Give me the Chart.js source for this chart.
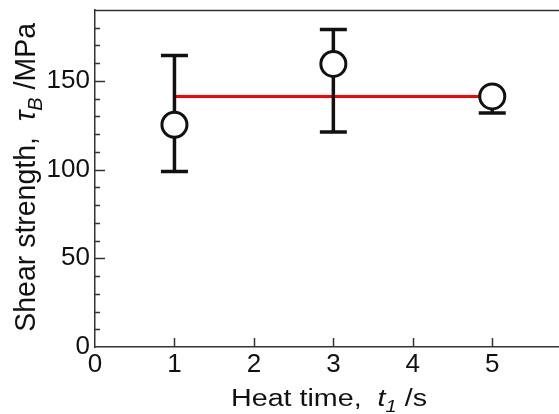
<!DOCTYPE html>
<html>
<head>
<meta charset="utf-8">
<script src="https://cdn.jsdelivr.net/npm/chart.js@4.4.1/dist/chart.umd.min.js"></script>
<style>
  html, body { margin: 0; padding: 0; background: #fff; overflow: hidden; }
  canvas { display: block; }
</style>
</head>
<body>
<canvas id="shearChart" width="559" height="414"></canvas>
<script>
"use strict";
// data
const heatTime = [1, 3, 5];
const shearMean = [125.3, 159.6, 141.3];
const shearUpper = [164.4, 179.0, 142.5];
const shearLower = [98.9, 121.2, 131.9];
const fitTime = [1, 5];
const fitShear = [141.3, 141.3];
const yLabelStep = 50;
const xLabels = ['0', '1', '2', '3', '4', '5'];

const FONT = "'Liberation Sans', Arial, sans-serif";
const INK = '#111';
const AXIS = '#333';

document.addEventListener('DOMContentLoaded', () => {
    const canvas = document.getElementById('shearChart');
    const ctx = canvas.getContext('2d');

    const points = heatTime.map((t, i) => ({ x: t, y: shearMean[i] }));
    const fitLine = fitTime.map((t, i) => ({ x: t, y: fitShear[i] }));

    // measure / draw a run of text pieces (italic, subscript)
    function richRun(c, parts, size, draw) {
        let x = 0;
        parts.forEach(p => {
            const s = p.sub ? size * 0.7 : size;
            c.font = (p.italic ? 'italic ' : '') + s + 'px ' + FONT;
            if (draw) c.fillText(p.text, x, p.sub ? size * 0.24 : 0);
            x += c.measureText(p.text).width;
        });
        return x;
    }

    function drawTitle(c, parts, size, box) {
        c.save();
        c.fillStyle = INK;
        c.textBaseline = 'alphabetic';
        c.textAlign = 'left';
        const w = richRun(c, parts, size, false);
        c.translate(box.x, box.y);
        if (box.rotate) c.rotate(-Math.PI / 2);
        c.scale(box.length / w, box.cap / (0.716 * size));
        richRun(c, parts, size, true);
        c.restore();
    }

    const axisExtras = {
        id: 'axisExtras',
        beforeDatasetDraw(chart, args) {
            if (args.index !== 1) return;
            // error bars, under the circles
            const c = chart.ctx;
            const xs = chart.scales.x, ys = chart.scales.y;
            c.save();
            c.strokeStyle = INK;
            c.lineWidth = 3.5;
            heatTime.forEach((t, i) => {
                const px = xs.getPixelForValue(t);
                const top = ys.getPixelForValue(shearUpper[i]);
                const bot = ys.getPixelForValue(shearLower[i]);
                c.beginPath();
                c.moveTo(px, top); c.lineTo(px, bot);
                c.moveTo(px - 13.5, top); c.lineTo(px + 13.5, top);
                c.moveTo(px - 13.5, bot); c.lineTo(px + 13.5, bot);
                c.stroke();
            });
            c.restore();
        },
        afterDraw(chart) {
            const c = chart.ctx;
            const { left, right, top, bottom } = chart.chartArea;
            const xs = chart.scales.x, ys = chart.scales.y;
            c.save();
            c.strokeStyle = AXIS;
            c.lineWidth = 1.5;
            // top frame line
            c.beginPath();
            c.moveTo(left, top + 0.5);
            c.lineTo(right, top + 0.5);
            c.stroke();
            // inward tick marks
            c.beginPath();
            ys.ticks.forEach(tk => {
                if (tk.value <= 0 || tk.value > 185) return;
                const py = Math.round(ys.getPixelForValue(tk.value)) + 0.5;
                const len = tk.value % yLabelStep === 0 ? 10 : 5;
                c.moveTo(left, py); c.lineTo(left + len, py);
            });
            xs.ticks.forEach(tk => {
                if (tk.value <= 0 || tk.value > xs.max) return;
                const px = Math.round(xs.getPixelForValue(tk.value)) + 0.5;
                c.moveTo(px, bottom); c.lineTo(px, bottom - 9);
            });
            c.stroke();
            c.restore();

            drawTitle(c, [
                { text: 'Heat time,  ' },
                { text: 't', italic: true },
                { text: '1', italic: true, sub: true },
                { text: ' /s' }
            ], 25, { x: 231, y: 406, length: 196, cap: 17.7 });

            drawTitle(c, [
                { text: 'Shear strength,  ' },
                { text: '\u03c4', italic: true },
                { text: 'B', italic: true, sub: true },
                { text: ' /MPa' }
            ], 25, { x: 35, y: 331.7, length: 308.7, cap: 21.5, rotate: true });
        }
    };

    new Chart(ctx, {
        type: 'scatter',
        data: {
            datasets: [{
                label: 'mean',
                data: fitLine,
                showLine: true,
                borderColor: '#ff0000',
                borderWidth: 3,
                pointRadius: 0,
                order: 2
            }, {
                label: 'shear strength',
                data: points,
                pointRadius: 12.5,
                pointBorderWidth: 3,
                borderColor: INK,
                backgroundColor: '#fff',
                order: 1
            }]
        },
        options: {
            responsive: false,
            animation: false,
            devicePixelRatio: 1,
            layout: { autoPadding: false, padding: { top: 10, right: 0, left: 0, bottom: 0 } },
            plugins: { legend: { display: false }, tooltip: { enabled: false } },
            scales: {
                x: {
                    type: 'linear',
                    min: 0,
                    max: 5.84,
                    grid: { display: false, drawTicks: false },
                    border: { display: true, color: AXIS, width: 1.5 },
                    ticks: {
                        stepSize: 1,
                        includeBounds: false,
                        autoSkip: false,
                        maxRotation: 0,
                        padding: 2,
                        color: INK,
                        font: { family: FONT, size: 26 },
                        callback: (v) => xLabels[v] !== undefined ? xLabels[v] : ''
                    },
                    afterFit: (scale) => {
                        scale.height = 67;
                        scale.paddingLeft = 0;
                        scale.paddingRight = 0;
                    }
                },
                y: {
                    min: 0,
                    max: 190,
                    grid: { display: false, drawTicks: false },
                    border: { display: true, color: AXIS, width: 1.5 },
                    ticks: {
                        stepSize: 10,
                        autoSkip: false,
                        padding: 5,
                        color: INK,
                        font: { family: FONT, size: 26 },
                        callback: (v) => v % yLabelStep === 0 ? String(v) : ''
                    },
                    afterFit: (scale) => {
                        scale.width = 95;
                        scale.paddingTop = 0;
                        scale.paddingBottom = 0;
                    }
                }
            }
        },
        plugins: [axisExtras]
    });
});
</script>
</body>
</html>
